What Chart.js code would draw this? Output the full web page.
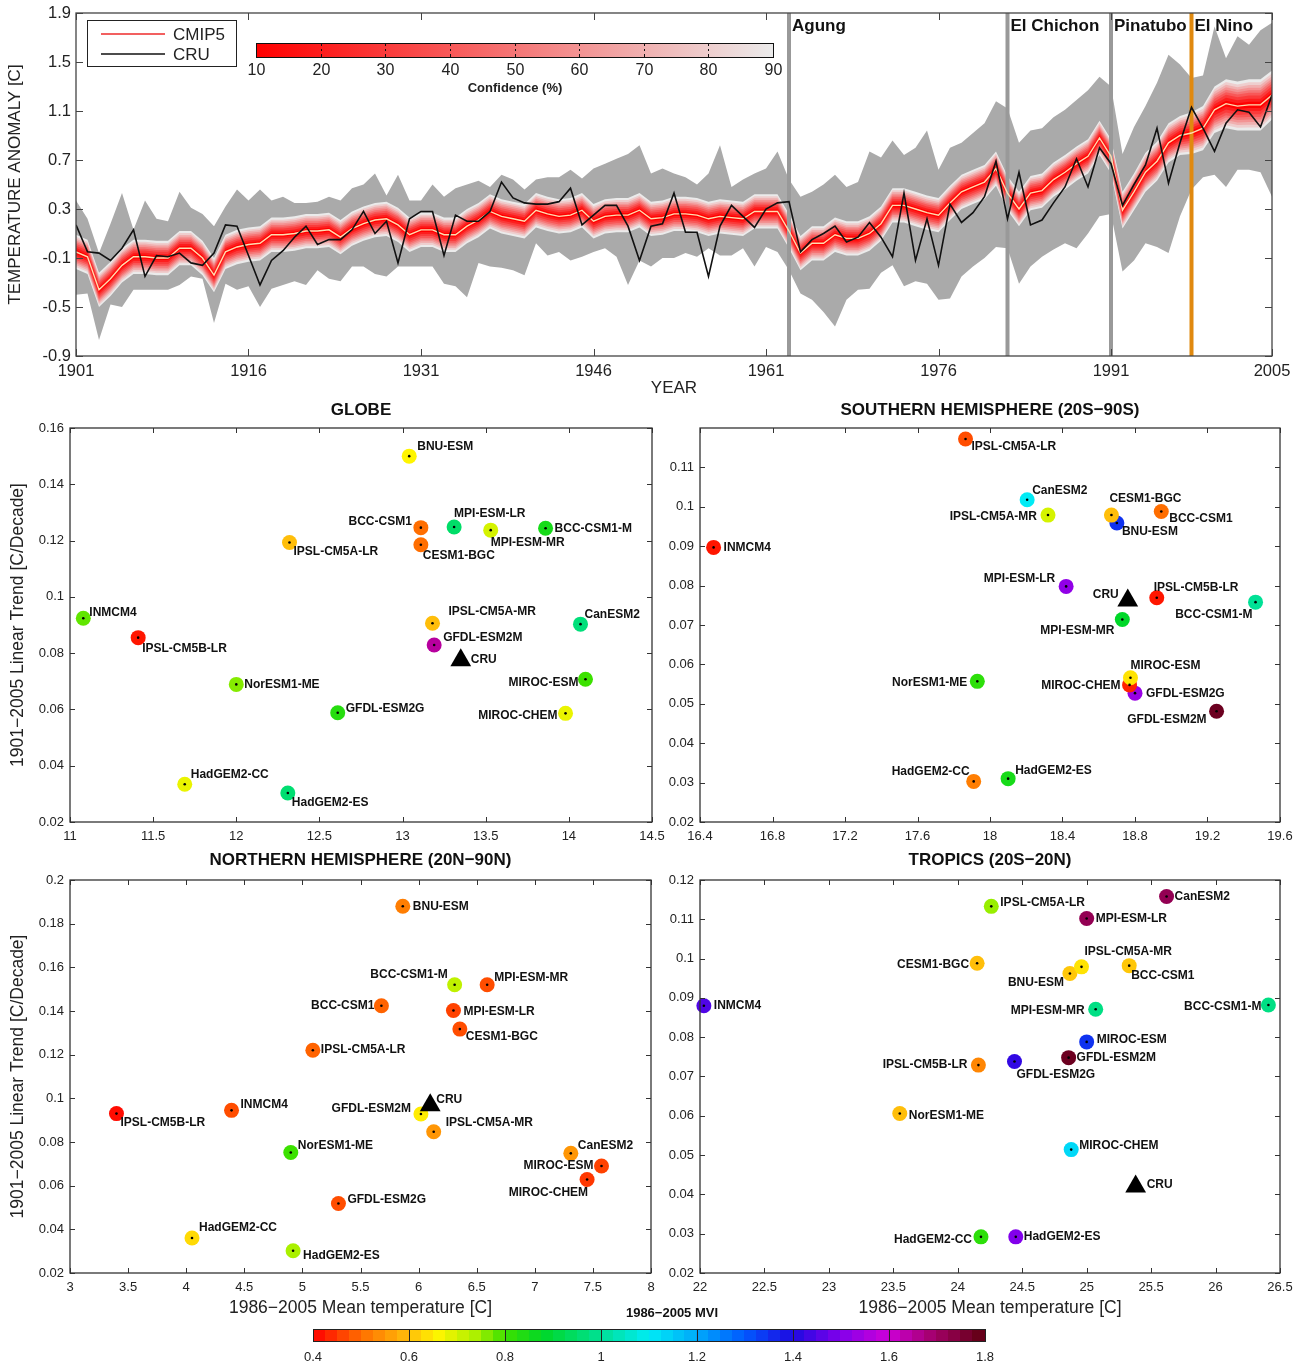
<!DOCTYPE html>
<html>
<head>
<meta charset="utf-8">
<script src="https://cdn.jsdelivr.net/npm/chart.js@4.4.1/dist/chart.umd.min.js"></script>
<style>
  body { margin: 0; background: #fff; width: 1306px; height: 1366px; position: relative; overflow: hidden; }
  canvas { position: absolute; }
</style>
</head>
<body>
<canvas id="tempChart" width="1306" height="400" style="left:0px;top:0px"></canvas>
<canvas id="globe" width="680" height="450" style="left:0px;top:395px"></canvas>
<canvas id="south" width="676" height="450" style="left:630px;top:395px"></canvas>
<canvas id="north" width="680" height="477" style="left:0px;top:845px"></canvas>
<canvas id="tropics" width="676" height="477" style="left:630px;top:845px"></canvas>
<canvas id="mviBar" width="740" height="66" style="left:280px;top:1300px"></canvas>
<script>
// ---- time series 1901-2005 ----
const firstYear = 1901;
const yearTicks = [1901, 1916, 1931, 1946, 1961, 1976, 1991, 2005];
const anomalyTicks = [-0.9, -0.5, -0.1, 0.3, 0.7, 1.1, 1.5, 1.9];

const cmipMean = [
  -0.05, -0.09, -0.36, -0.27, -0.16, -0.09, -0.09, -0.10, -0.10, -0.02,
  -0.02, -0.10, -0.24, -0.05, -0.01, 0.01, 0.02, 0.09, 0.09, 0.10,
  0.12, 0.12, 0.13, 0.07, 0.14, 0.18, 0.21, 0.22, 0.17, 0.09,
  0.13, 0.13, 0.09, 0.09, 0.16, 0.21, 0.28, 0.24, 0.22, 0.20,
  0.29, 0.26, 0.24, 0.25, 0.29, 0.20, 0.24, 0.25, 0.25, 0.29,
  0.22, 0.23, 0.26, 0.26, 0.25, 0.22, 0.24, 0.23, 0.22, 0.28,
  0.28, 0.28, 0.12, -0.06, 0.02, 0.02, 0.09, 0.06, 0.06, 0.10,
  0.18, 0.33, 0.33, 0.30, 0.27, 0.25, 0.35, 0.44, 0.48, 0.52,
  0.63, 0.43, 0.30, 0.43, 0.45, 0.54, 0.60, 0.67, 0.73, 0.88,
  0.73, 0.29, 0.44, 0.60, 0.69, 0.84, 0.90, 0.92, 0.96, 1.11,
  1.16, 1.14, 1.15, 1.15, 1.23
];
const cru = [
  0.17, -0.05, -0.06, -0.12, -0.02, 0.13, -0.25, -0.08, -0.09, -0.06,
  -0.14, -0.16, -0.06, 0.17, 0.16, -0.08, -0.32, -0.12, -0.04, 0.07,
  0.16, 0.01, 0.05, 0.05, 0.13, 0.28, 0.10, 0.20, -0.14, 0.22,
  0.28, 0.28, -0.08, 0.25, 0.20, 0.20, 0.28, 0.52, 0.39, 0.35,
  0.34, 0.34, 0.36, 0.47, 0.17, 0.25, 0.33, 0.33, 0.16, -0.12,
  0.16, 0.18, 0.43, 0.11, 0.11, -0.25, 0.16, 0.33, 0.24, 0.15,
  0.30, 0.35, 0.36, -0.05, 0.05, 0.10, 0.16, 0.03, 0.07, 0.19,
  0.07, -0.09, 0.43, -0.12, 0.22, -0.16, 0.34, 0.19, 0.27, 0.40,
  0.69, 0.22, 0.60, 0.17, 0.21, 0.35, 0.48, 0.71, 0.48, 0.80,
  0.67, 0.33, 0.50, 0.66, 0.96, 0.51, 0.84, 1.13, 0.96, 0.77,
  1.00, 1.11, 1.09, 0.97, 1.23
];
const modelMax = [
  0.37, 0.22, -0.06, 0.18, 0.43, 0.13, 0.37, 0.22, 0.20, 0.44,
  0.31, 0.26, 0.16, 0.32, 0.46, 0.37, 0.46, 0.37, 0.40, 0.35,
  0.35, 0.36, 0.40, 0.37, 0.47, 0.50, 0.59, 0.41, 0.58, 0.37,
  0.37, 0.50, 0.40, 0.47, 0.50, 0.53, 0.48, 0.58, 0.54, 0.46,
  0.54, 0.56, 0.56, 0.62, 0.55, 0.63, 0.67, 0.71, 0.75, 0.82,
  0.59, 0.63, 0.59, 0.56, 0.50, 0.59, 0.82, 0.48, 0.54, 0.59,
  0.63, 0.77, 0.54, 0.40, 0.44, 0.50, 0.58, 0.48, 0.52, 0.77,
  0.72, 0.86, 0.74, 0.80, 0.94, 0.62, 0.80, 0.84, 0.92, 1.00,
  1.18, 1.12, 0.84, 0.94, 0.96, 1.05, 1.11, 1.19, 1.27, 1.38,
  1.30, 0.75, 0.97, 1.14, 1.33, 1.56, 1.48, 1.37, 1.39, 1.79,
  1.53, 1.71, 1.64, 1.76, 1.82
];
const modelMin = [
  -0.40, -0.39, -0.77, -0.48, -0.50, -0.36, -0.36, -0.36, -0.36, -0.32,
  -0.25, -0.27, -0.63, -0.31, -0.36, -0.33, -0.50, -0.35, -0.32, -0.29,
  -0.32, -0.20, -0.27, -0.29, -0.17, -0.17, -0.23, -0.25, -0.17, -0.17,
  -0.17, -0.17, -0.31, -0.33, -0.42, -0.14, -0.17, -0.18, -0.20, -0.24,
  0.02, -0.08, -0.05, -0.12, -0.09, -0.05, -0.02, -0.09, -0.32, -0.12,
  -0.17, -0.10, -0.10, -0.06, -0.09, -0.02, -0.08, -0.08, -0.02, -0.17,
  -0.01, -0.05, -0.20, -0.39, -0.44, -0.54, -0.66, -0.44, -0.36, -0.35,
  -0.22, -0.16, -0.33, -0.29, -0.31, -0.44, -0.43, -0.25, -0.17, -0.10,
  -0.01, -0.02, -0.31, -0.17, -0.09, -0.03, 0.02, -0.02, 0.10, 0.24,
  0.26, -0.21, -0.12, 0.02, -0.01, -0.06, 0.24, 0.46, 0.56, 0.58,
  0.48, 0.62, 0.62, 0.60, 0.40
];
// half width of the 90% confidence band around the CMIP5 mean
const cmipSpread = [
  0.14, 0.14, 0.14, 0.14, 0.14, 0.14, 0.14, 0.14, 0.14, 0.14,
  0.14, 0.14, 0.14, 0.14, 0.14, 0.14, 0.14, 0.14, 0.14, 0.14,
  0.14, 0.14, 0.14, 0.14, 0.14, 0.14, 0.14, 0.14, 0.14, 0.14,
  0.14, 0.14, 0.14, 0.14, 0.14, 0.14, 0.14, 0.14, 0.14, 0.14,
  0.14, 0.14, 0.14, 0.14, 0.14, 0.14, 0.14, 0.14, 0.14, 0.14,
  0.14, 0.14, 0.14, 0.14, 0.14, 0.14, 0.14, 0.14, 0.14, 0.14,
  0.14, 0.14, 0.14, 0.14, 0.14, 0.14, 0.14, 0.14, 0.14, 0.14,
  0.14, 0.14, 0.14, 0.14, 0.14, 0.14, 0.14, 0.14, 0.14, 0.14,
  0.14, 0.14, 0.14, 0.14, 0.14, 0.14, 0.14, 0.14, 0.14, 0.14,
  0.14, 0.15, 0.15, 0.16, 0.16, 0.16, 0.16, 0.17, 0.18, 0.19,
  0.20, 0.20, 0.21, 0.21, 0.20
];
const confLevels = [10, 20, 30, 40, 50, 60, 70, 80, 90];
const confFrac = [0.12, 0.24, 0.36, 0.47, 0.57, 0.67, 0.77, 0.88, 1.0];

const events = ['Agung', 'El Chichon', 'Pinatubo', 'El Nino'];
const eventYears = [1963, 1982, 1991, 1998];
const eventColors = ['#999999', '#999999', '#999999', '#e0890f'];

// ---- scatter panels ----
const models = ['BCC-CSM1', 'BCC-CSM1-M', 'BNU-ESM', 'CanESM2', 'CESM1-BGC', 'GFDL-ESM2G',
  'GFDL-ESM2M', 'HadGEM2-CC', 'HadGEM2-ES', 'INMCM4', 'IPSL-CM5A-LR', 'IPSL-CM5A-MR',
  'IPSL-CM5B-LR', 'MIROC-CHEM', 'MIROC-ESM', 'MPI-ESM-LR', 'MPI-ESM-MR', 'NorESM1-ME'];

const globeTemp  = [13.11, 13.86, 13.04, 14.07, 13.11, 12.61, 13.19, 11.69, 12.31, 11.08, 12.32, 13.18, 11.41, 13.98, 14.10, 13.31, 13.53, 12.00];
const globeTrend = [0.1246, 0.1244, 0.150, 0.0903, 0.1185, 0.0588, 0.0829, 0.0334, 0.0303, 0.0924, 0.1193, 0.0906, 0.0855, 0.0586, 0.0707, 0.1248, 0.1237, 0.0689];
const globeMvi   = [0.50, 0.85, 0.66, 0.97, 0.50, 0.83, 1.65, 0.68, 0.96, 0.78, 0.60, 0.60, 0.42, 0.68, 0.80, 0.95, 0.70, 0.76];
const globeCru   = [13.35, 0.0775];

const southTemp  = [18.945, 19.465, 18.70, 18.205, 18.67, 18.80, 19.25, 17.91, 18.10, 16.475, 17.865, 18.32, 18.92, 18.77, 18.775, 18.42, 18.73, 17.93];
const southTrend = [0.0988, 0.0758, 0.0959, 0.1018, 0.0979, 0.0527, 0.0481, 0.0303, 0.0310, 0.0897, 0.1172, 0.0979, 0.0769, 0.0548, 0.0566, 0.0798, 0.0714, 0.0557];
const southMvi   = [0.50, 1.00, 1.35, 1.10, 0.60, 1.53, 1.78, 0.52, 0.85, 0.42, 0.47, 0.70, 0.42, 0.43, 0.64, 1.52, 0.88, 0.82];
const southCru   = [18.76, 0.0762];

const northTemp  = [5.68, 6.31, 5.864, 7.31, 6.355, 5.31, 6.02, 4.05, 4.92, 4.39, 5.09, 6.13, 3.40, 7.45, 7.574, 6.30, 6.59, 4.90];
const northTrend = [0.1424, 0.152, 0.188, 0.0748, 0.1317, 0.0518, 0.0928, 0.036, 0.0302, 0.0945, 0.122, 0.0847, 0.093, 0.0628, 0.069, 0.1402, 0.152, 0.0752];
const northMvi   = [0.49, 0.72, 0.52, 0.55, 0.47, 0.47, 0.65, 0.63, 0.74, 0.47, 0.49, 0.55, 0.41, 0.45, 0.46, 0.46, 0.47, 0.80];
const northCru   = [6.10, 0.0968];

const tropTemp  = [25.33, 26.41, 24.87, 25.62, 24.15, 24.44, 24.86, 24.18, 24.45, 22.03, 24.26, 24.96, 24.16, 24.88, 25.00, 25.00, 25.07, 23.55];
const tropTrend = [0.0982, 0.0882, 0.0962, 0.1158, 0.0988, 0.0738, 0.0748, 0.0292, 0.0292, 0.088, 0.1133, 0.0979, 0.0729, 0.0514, 0.0788, 0.1102, 0.0871, 0.0606];
const tropMvi   = [0.61, 0.98, 0.61, 1.72, 0.60, 1.42, 1.78, 0.82, 1.50, 1.45, 0.75, 0.64, 0.53, 1.13, 1.35, 1.72, 0.98, 0.60];
const tropCru   = [25.38, 0.042];

const globeXTicks = [11, 11.5, 12, 12.5, 13, 13.5, 14, 14.5];
const globeYTicks = [0.02, 0.04, 0.06, 0.08, 0.1, 0.12, 0.14, 0.16];
const southXTicks = [16.4, 16.8, 17.2, 17.6, 18, 18.4, 18.8, 19.2, 19.6];
const southYTicks = [0.02, 0.03, 0.04, 0.05, 0.06, 0.07, 0.08, 0.09, 0.1, 0.11];
const northXTicks = [3, 3.5, 4, 4.5, 5, 5.5, 6, 6.5, 7, 7.5, 8];
const northYTicks = [0.02, 0.04, 0.06, 0.08, 0.1, 0.12, 0.14, 0.16, 0.18, 0.2];
const tropXTicks = [22, 22.5, 23, 23.5, 24, 24.5, 25, 25.5, 26, 26.5];
const tropYTicks = [0.02, 0.03, 0.04, 0.05, 0.06, 0.07, 0.08, 0.09, 0.1, 0.11, 0.12];
const mviTicks = [0.4, 0.6, 0.8, 1.0, 1.2, 1.4, 1.6, 1.8];

// label offsets [dx, dy, align] from marker centre, in px
const globeLabels = {
  'BNU-ESM': [8, -9], 'BCC-CSM1': [-9, -6], 'MPI-ESM-LR': [0, -13, 'left'], 'MPI-ESM-MR': [0, 13, 'left'],
  'BCC-CSM1-M': [9, 0], 'CESM1-BGC': [2, 11], 'IPSL-CM5A-LR': [4, 9], 'INMCM4': [6, -6],
  'IPSL-CM5B-LR': [4, 11], 'IPSL-CM5A-MR': [16, -12], 'GFDL-ESM2M': [9, -7], 'CRU': [10, 0],
  'CanESM2': [4, -9], 'MIROC-ESM': [-7, 3], 'MIROC-CHEM': [-8, 2], 'NorESM1-ME': [8, 0],
  'GFDL-ESM2G': [8, -4], 'HadGEM2-CC': [6, -10], 'HadGEM2-ES': [4, 10]
};
const southLabels = {
  'IPSL-CM5A-LR': [6, 8], 'CanESM2': [5, -9], 'IPSL-CM5A-MR': [-11, 2], 'CESM1-BGC': [-2, -16, 'left'],
  'BNU-ESM': [5, 9], 'BCC-CSM1': [8, 7], 'INMCM4': [10, 0], 'MPI-ESM-LR': [-11, -8], 'CRU': [-9, -6],
  'IPSL-CM5B-LR': [-3, -10, 'left'], 'BCC-CSM1-M': [-3, 13], 'MPI-ESM-MR': [-8, 11], 'NorESM1-ME': [-10, 1],
  'MIROC-ESM': [0, -12, 'left'], 'MIROC-CHEM': [-9, 1], 'GFDL-ESM2G': [11, 1], 'GFDL-ESM2M': [-10, 8],
  'HadGEM2-CC': [-4, -10], 'HadGEM2-ES': [7, -8]
};
const northLabels = {
  'BNU-ESM': [10, 0], 'BCC-CSM1-M': [-7, -10], 'MPI-ESM-MR': [7, -7], 'BCC-CSM1': [-7, 0],
  'MPI-ESM-LR': [10, 1], 'CESM1-BGC': [6, 8], 'IPSL-CM5A-LR': [8, -1], 'CRU': [6, -6],
  'GFDL-ESM2M': [-10, -5], 'IPSL-CM5B-LR': [4, 9], 'INMCM4': [9, -6], 'IPSL-CM5A-MR': [12, -9],
  'NorESM1-ME': [7, -7], 'CanESM2': [7, -8], 'MIROC-ESM': [-8, 0], 'MIROC-CHEM': [1, 13, 'right'],
  'GFDL-ESM2G': [9, -4], 'HadGEM2-CC': [7, -10], 'HadGEM2-ES': [10, 5]
};
const tropLabels = {
  'CanESM2': [8, 0], 'IPSL-CM5A-LR': [9, -4], 'MPI-ESM-LR': [9, 0], 'IPSL-CM5A-MR': [3, -15],
  'CESM1-BGC': [-8, 1], 'BNU-ESM': [-6, 9], 'BCC-CSM1': [2, 10], 'INMCM4': [10, 0],
  'MPI-ESM-MR': [-11, 1], 'BCC-CSM1-M': [-7, 2], 'MIROC-ESM': [10, -2], 'GFDL-ESM2M': [8, 0],
  'GFDL-ESM2G': [2, 13], 'IPSL-CM5B-LR': [-11, 0], 'NorESM1-ME': [9, 2], 'MIROC-CHEM': [8, -4],
  'CRU': [11, -2], 'HadGEM2-CC': [-9, 3], 'HadGEM2-ES': [8, 0]
};

Chart.defaults.font.family = "'Liberation Sans', Arial, sans-serif";
Chart.defaults.color = '#222';

const fmt = v => String(Math.round(v * 1000) / 1000);

// MVI colour map (jet-like, ending in maroon)
const mviStops = [
  [0.40, [255, 0, 0]], [0.50, [255, 110, 0]], [0.60, [255, 190, 10]], [0.66, [255, 245, 0]],
  [0.74, [170, 240, 0]], [0.80, [60, 225, 0]], [0.88, [0, 215, 40]], [1.00, [0, 225, 150]],
  [1.10, [0, 235, 245]], [1.20, [0, 170, 250]], [1.30, [0, 90, 255]], [1.40, [30, 10, 225]],
  [1.50, [130, 0, 235]], [1.60, [205, 0, 215]], [1.70, [160, 0, 100]], [1.80, [95, 0, 15]]
];
function mviColor(v) {
  if (v <= mviStops[0][0]) return `rgb(${mviStops[0][1].join(',')})`;
  for (let i = 1; i < mviStops.length; i++) {
    if (v <= mviStops[i][0]) {
      const [a, ca] = mviStops[i - 1], [b, cb] = mviStops[i];
      const t = (v - a) / (b - a);
      return `rgb(${ca.map((c, k) => Math.round(c + (cb[k] - c) * t)).join(',')})`;
    }
  }
  return `rgb(${mviStops[mviStops.length - 1][1].join(',')})`;
}
function confColor(p) {
  const t = (p - 10) / 80;
  return `rgb(${Math.round(255 - 20 * t)},${Math.round(235 * t)},${Math.round(235 * t)})`;
}

// inward ticks on all four sides + frame (matlab look)
function boxPlugin(len, color) {
  return {
    id: 'box',
    afterDraw(chart) {
      const { ctx, chartArea: a, scales: { x, y } } = chart;
      ctx.save();
      ctx.strokeStyle = color;
      ctx.lineWidth = 1;
      ctx.beginPath();
      x.ticks.forEach(t => {
        const px = Math.round(x.getPixelForValue(t.value)) + 0.5;
        ctx.moveTo(px, a.bottom); ctx.lineTo(px, a.bottom - len);
        ctx.moveTo(px, a.top); ctx.lineTo(px, a.top + len);
      });
      y.ticks.forEach(t => {
        const py = Math.round(y.getPixelForValue(t.value)) + 0.5;
        ctx.moveTo(a.left, py); ctx.lineTo(a.left + len, py);
        ctx.moveTo(a.right, py); ctx.lineTo(a.right - len, py);
      });
      ctx.stroke();
      ctx.lineWidth = 1.3;
      ctx.strokeRect(a.left, a.top, a.right - a.left, a.bottom - a.top);
      ctx.restore();
    }
  };
}

// ---------------- top panel ----------------
const pts = arr => arr.map((v, i) => ({ x: firstYear + i, y: v }));
const tsDatasets = [
  { data: pts(cru), borderColor: '#111', borderWidth: 1.6, pointRadius: 0, fill: false, tension: 0 },
  { data: pts(cmipMean), borderColor: '#ffdcb0', borderWidth: 1.4, pointRadius: 0, fill: false, tension: 0 }
];
confLevels.forEach((p, k) => {
  tsDatasets.push({ data: pts(cmipMean.map((m, i) => m + confFrac[k] * cmipSpread[i])),
    backgroundColor: confColor(p), borderWidth: 0, borderColor: 'transparent', pointRadius: 0, fill: '+1' });
  tsDatasets.push({ data: pts(cmipMean.map((m, i) => m - confFrac[k] * cmipSpread[i])),
    borderWidth: 0, borderColor: 'transparent', pointRadius: 0, fill: false });
});
tsDatasets.push({ data: pts(modelMax), backgroundColor: '#aaaaaa', borderWidth: 0, borderColor: 'transparent', pointRadius: 0, fill: '+1' });
tsDatasets.push({ data: pts(modelMin), borderWidth: 0, borderColor: 'transparent', pointRadius: 0, fill: false });

const eventPlugin = {
  id: 'events',
  afterDatasetDraw(chart, args) {
    if (args.index !== 2) return;
    const { ctx, chartArea: a, scales: { x } } = chart;
    ctx.save();
    ctx.lineWidth = 4;
    eventYears.forEach((yr, i) => {
      const px = x.getPixelForValue(yr);
      ctx.strokeStyle = eventColors[i];
      ctx.beginPath(); ctx.moveTo(px, a.top); ctx.lineTo(px, a.bottom); ctx.stroke();
    });
    ctx.restore();
  },
  afterDraw(chart) {
    const { ctx, scales: { x } } = chart;
    ctx.save();
    ctx.font = "bold 17px 'Liberation Sans', Arial";
    ctx.fillStyle = '#111';
    ctx.textBaseline = 'middle';
    ctx.textAlign = 'left';
    eventYears.forEach((yr, i) => ctx.fillText(events[i], x.getPixelForValue(yr) + 3, 26));

    // legend
    ctx.fillStyle = '#fff';
    ctx.fillRect(87.5, 20.5, 149, 46);
    ctx.strokeStyle = '#222'; ctx.lineWidth = 1;
    ctx.strokeRect(87.5, 20.5, 149, 46);
    ctx.lineWidth = 1.5;
    ctx.strokeStyle = '#ee2b2b';
    ctx.beginPath(); ctx.moveTo(101, 34); ctx.lineTo(165, 34); ctx.stroke();
    ctx.strokeStyle = '#111';
    ctx.beginPath(); ctx.moveTo(101, 54); ctx.lineTo(165, 54); ctx.stroke();
    ctx.fillStyle = '#222';
    ctx.font = "17px 'Liberation Sans', Arial";
    ctx.fillText('CMIP5', 173, 35);
    ctx.fillText('CRU', 173, 55);

    // confidence colour bar
    const x0 = 256, x1 = 773, y0 = 43, y1 = 57;
    const g = ctx.createLinearGradient(x0, 0, x1, 0);
    confLevels.forEach(p => g.addColorStop((p - 10) / 80, confColor(p)));
    ctx.fillStyle = g;
    ctx.fillRect(x0, y0, x1 - x0, y1 - y0);
    ctx.strokeStyle = '#111'; ctx.lineWidth = 1;
    ctx.strokeRect(x0 + 0.5, y0 + 0.5, x1 - x0, y1 - y0);
    ctx.fillStyle = '#222';
    ctx.textAlign = 'center';
    ctx.font = "16px 'Liberation Sans', Arial";
    ctx.beginPath();
    confLevels.forEach(p => {
      const px = Math.round(x0 + (p - 10) / 80 * (x1 - x0)) + 0.5;
      if (p > 10 && p < 90) {
        ctx.moveTo(px, y0); ctx.lineTo(px, y0 + 3);
        ctx.moveTo(px, y0 + 6); ctx.lineTo(px, y0 + 8);
        ctx.moveTo(px, y1 - 3); ctx.lineTo(px, y1);
      }
      ctx.fillText(String(p), px, 71);
    });
    ctx.stroke();
    ctx.font = "bold 13px 'Liberation Sans', Arial";
    ctx.fillText('Confidence (%)', 515, 88);
    ctx.restore();
  }
};

new Chart(document.getElementById('tempChart'), {
  type: 'line',
  data: { datasets: tsDatasets },
  options: {
    responsive: false, animation: false, devicePixelRatio: 1, events: [],
    layout: { padding: { top: 13, right: 34, left: 0, bottom: 0 } },
    scales: {
      x: {
        type: 'linear', min: 1901, max: 2005,
        afterBuildTicks: s => { s.ticks = yearTicks.map(v => ({ value: v })); },
        afterFit: s => { s.height = 44; s.paddingLeft = 0; s.paddingRight = 0; },
        ticks: { callback: v => String(v), font: { size: 16.5 }, padding: 6, maxRotation: 0, autoSkip: false },
        grid: { display: false, drawTicks: false }, border: { display: false },
        title: { display: true, text: 'YEAR', font: { size: 17 }, padding: { top: 0, bottom: 1 } }
      },
      y: {
        type: 'linear', min: -0.9, max: 1.9,
        afterBuildTicks: s => { s.ticks = anomalyTicks.map(v => ({ value: v })); },
        afterFit: s => { s.width = 76; s.paddingTop = 0; s.paddingBottom = 0; },
        ticks: { callback: fmt, font: { size: 16.5 }, padding: 5 },
        grid: { display: false, drawTicks: false }, border: { display: false },
        title: { display: true, text: 'TEMPERATURE ANOMALY [C]', font: { size: 17 }, padding: { top: 5, bottom: 0 } }
      }
    },
    plugins: { legend: { display: false }, tooltip: { enabled: false } }
  },
  plugins: [eventPlugin, boxPlugin(7, '#444')]
});

// ---------------- scatter panels ----------------
function makeScatter(id, p) {
  const points = p.temp.map((t, i) => ({ x: t, y: p.trend[i] }));
  const labelPlugin = {
    id: 'modelLabels',
    afterDatasetsDraw(chart) {
      const ctx = chart.ctx;
      const dots = chart.getDatasetMeta(2).data;
      const tri = chart.getDatasetMeta(0).data[0];
      ctx.save();
      ctx.font = "bold 12px 'Liberation Sans', Arial";
      ctx.fillStyle = '#111';
      ctx.textBaseline = 'middle';
      const put = (name, el) => {
        const [dx, dy, al] = p.labels[name];
        ctx.textAlign = al || (dx < 0 ? 'right' : 'left');
        ctx.fillText(name, el.x + dx, el.y + dy);
      };
      models.forEach((m, i) => put(m, dots[i]));
      put('CRU', tri);
      ctx.font = "bold 17px 'Liberation Sans', Arial";
      ctx.textAlign = 'center';
      const a = chart.chartArea;
      ctx.fillText(p.title, (a.left + a.right) / 2, 15);
      ctx.restore();
    }
  };
  return new Chart(document.getElementById(id), {
    type: 'scatter',
    data: {
      datasets: [
        { data: [{ x: p.cru[0], y: p.cru[1] }], pointStyle: 'triangle', pointRadius: 12, backgroundColor: '#000', borderWidth: 0, clip: false },
        { data: points, pointRadius: 1.3, backgroundColor: '#000', borderWidth: 0, clip: false },
        { data: points, pointRadius: 7.5, backgroundColor: p.mvi.map(mviColor), borderWidth: 0, clip: false }
      ]
    },
    options: {
      responsive: false, animation: false, devicePixelRatio: 1, events: [],
      layout: { padding: { top: p.padTop, right: p.padRight, left: 0, bottom: 0 } },
      scales: {
        x: {
          type: 'linear', min: p.xTicks[0], max: p.xTicks[p.xTicks.length - 1],
          afterBuildTicks: s => { s.ticks = p.xTicks.map(v => ({ value: v })); },
          afterFit: s => { s.height = p.xHeight; s.paddingLeft = 0; s.paddingRight = 0; },
          ticks: { callback: fmt, font: { size: 13 }, padding: 7, maxRotation: 0, autoSkip: false },
          grid: { display: false, drawTicks: false }, border: { display: false },
          title: { display: p.bottomRow, text: '1986−2005 Mean temperature [C]', font: { size: 17.5 }, padding: { top: 0, bottom: 3.5 } }
        },
        y: {
          type: 'linear', min: p.yTicks[0], max: p.yMax,
          afterBuildTicks: s => { s.ticks = p.yTicks.map(v => ({ value: v })); },
          afterFit: s => { s.width = 70; s.paddingTop = 0; s.paddingBottom = 0; },
          ticks: { callback: fmt, font: { size: 13 }, padding: 6 },
          grid: { display: false, drawTicks: false }, border: { display: false },
          title: { display: p.leftCol, text: '1901−2005 Linear Trend [C/Decade]', font: { size: 17.5 }, padding: { top: 7.5, bottom: 0 } }
        }
      },
      plugins: { legend: { display: false }, tooltip: { enabled: false } }
    },
    plugins: [labelPlugin, boxPlugin(5, '#333')]
  });
}

makeScatter('globe', { title: 'GLOBE', temp: globeTemp, trend: globeTrend, mvi: globeMvi, cru: globeCru,
  xTicks: globeXTicks, yTicks: globeYTicks, yMax: 0.16, labels: globeLabels,
  padTop: 33, padRight: 28, xHeight: 23, leftCol: true, bottomRow: false });
makeScatter('south', { title: 'SOUTHERN HEMISPHERE (20S−90S)', temp: southTemp, trend: southTrend, mvi: southMvi, cru: southCru,
  xTicks: southXTicks, yTicks: southYTicks, yMax: 0.12, labels: southLabels,
  padTop: 33, padRight: 26, xHeight: 23, leftCol: false, bottomRow: false });
makeScatter('north', { title: 'NORTHERN HEMISPHERE (20N−90N)', temp: northTemp, trend: northTrend, mvi: northMvi, cru: northCru,
  xTicks: northXTicks, yTicks: northYTicks, yMax: 0.2, labels: northLabels,
  padTop: 35, padRight: 29, xHeight: 49, leftCol: true, bottomRow: true });
makeScatter('tropics', { title: 'TROPICS (20S−20N)', temp: tropTemp, trend: tropTrend, mvi: tropMvi, cru: tropCru,
  xTicks: tropXTicks, yTicks: tropYTicks, yMax: 0.12, labels: tropLabels,
  padTop: 35, padRight: 26, xHeight: 49, leftCol: false, bottomRow: true });

// ---------------- MVI colour bar ----------------
const mviBarPlugin = {
  id: 'mviBar',
  beforeDraw(chart) {
    const { ctx, chartArea: a, scales: { x } } = chart;
    ctx.save();
    const step = 0.025;
    for (let v = 0.4; v < 1.8 - 1e-6; v += step) {
      const l = x.getPixelForValue(v), r = x.getPixelForValue(v + step);
      ctx.fillStyle = mviColor(v + step / 2);
      ctx.fillRect(Math.floor(l), a.top, Math.ceil(r) - Math.floor(l), a.bottom - a.top);
    }
    ctx.restore();
  },
  afterDraw(chart) {
    const { ctx, chartArea: a, scales: { x } } = chart;
    ctx.save();
    ctx.strokeStyle = '#222'; ctx.lineWidth = 1;
    ctx.beginPath();
    mviTicks.slice(1, -1).forEach(v => {
      const px = Math.round(x.getPixelForValue(v)) + 0.5;
      ctx.moveTo(px, a.top); ctx.lineTo(px, a.bottom);
    });
    ctx.stroke();
    ctx.strokeRect(a.left + 0.5, a.top + 0.5, a.right - a.left, a.bottom - a.top);
    ctx.fillStyle = '#111';
    ctx.font = "bold 13px 'Liberation Sans', Arial";
    ctx.textAlign = 'center'; ctx.textBaseline = 'middle';
    ctx.fillText('1986−2005 MVI', 392, 13);
    ctx.restore();
  }
};
new Chart(document.getElementById('mviBar'), {
  type: 'scatter',
  data: { datasets: [] },
  options: {
    responsive: false, animation: false, devicePixelRatio: 1, events: [],
    layout: { padding: { top: 29, right: 35, left: 33, bottom: 0 } },
    scales: {
      x: {
        type: 'linear', min: 0.4, max: 1.8,
        afterBuildTicks: s => { s.ticks = mviTicks.map(v => ({ value: v })); },
        afterFit: s => { s.height = 25; s.paddingLeft = 0; s.paddingRight = 0; },
        ticks: { callback: fmt, font: { size: 13 }, padding: 9, maxRotation: 0, autoSkip: false },
        grid: { display: false, drawTicks: false }, border: { display: false }
      },
      y: { display: false, min: 0, max: 1 }
    },
    plugins: { legend: { display: false }, tooltip: { enabled: false } }
  },
  plugins: [mviBarPlugin]
});
</script>
</body>
</html>
